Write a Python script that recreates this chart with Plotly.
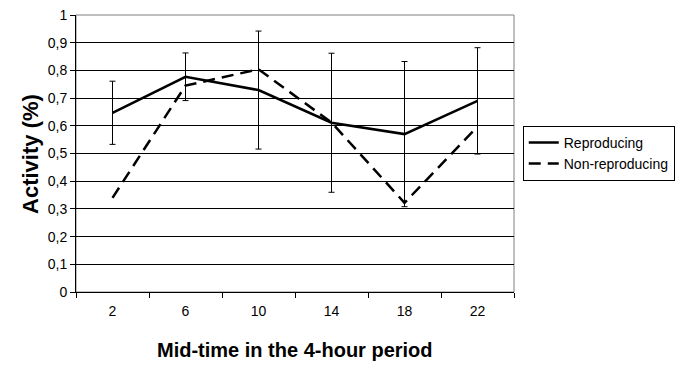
import plotly.graph_objects as go

# Mid-time of each 4-hour period (hours)
periods = ["2", "6", "10", "14", "18", "22"]

# Mean activity per period
reproducing = [0.647, 0.777, 0.729, 0.611, 0.570, 0.690]
non_reproducing = [0.340, 0.745, 0.804, 0.612, 0.322, 0.597]

# Error-bar half-widths for the reproducing series
reproducing_err = [0.114, 0.086, 0.213, 0.251, 0.262, 0.192]

FONT = "Liberation Sans, Arial, sans-serif"

fig = go.Figure()

fig.add_trace(go.Scatter(
    x=periods, y=reproducing, name="Reproducing", mode="lines",
    line=dict(color="black", width=2.5),
    error_y=dict(type="data", array=reproducing_err, symmetric=True,
                 color="black", thickness=1, width=3),
))

fig.add_trace(go.Scatter(
    x=periods, y=non_reproducing, name="Non-reproducing", mode="lines",
    line=dict(color="black", width=2.5, dash="12px,7px"),
))

# Grey frame around the plotting area
fig.add_shape(type="rect", xref="paper", yref="paper", x0=0, x1=1, y0=0, y1=1,
              line=dict(color="#808080", width=1), layer="below")

# Axis titles
fig.add_annotation(text="<b>Mid-time in the 4-hour period</b>", xref="paper", yref="paper",
                   x=0.5, y=-0.209, xanchor="center", yanchor="middle",
                   showarrow=False, font=dict(size=20))
fig.add_annotation(text="<b>Activity (%)</b>", xref="paper", yref="paper",
                   x=-0.104, y=0.5, xanchor="center", yanchor="middle", textangle=-90,
                   showarrow=False, font=dict(size=22))

fig.update_layout(
    width=687, height=365,
    margin=dict(l=76, r=169, t=15, b=73),
    paper_bgcolor="white", plot_bgcolor="white",
    separators=",.",
    font=dict(family=FONT, size=14, color="black"),
    showlegend=True,
    legend=dict(x=1.02, y=0.60, xanchor="left", yanchor="top",
                bordercolor="black", borderwidth=1, bgcolor="white",
                font=dict(size=14), tracegroupgap=0, itemwidth=30),
    xaxis=dict(
        type="category", showgrid=False, zeroline=False, automargin=False,
        showline=True, linecolor="black", linewidth=1,
        ticks="outside", ticklen=5, tickcolor="black", tickson="boundaries",
        ticklabelstandoff=6,
        range=[-0.5, 5.5],
    ),
    yaxis=dict(
        range=[0, 1], dtick=0.1, tick0=0, automargin=False,
        showgrid=True, gridcolor="black", gridwidth=1, zeroline=False,
        showline=True, linecolor="black", linewidth=1,
        ticks="outside", ticklen=5, tickcolor="black",
    ),
)

fig.write_html("out.html")
